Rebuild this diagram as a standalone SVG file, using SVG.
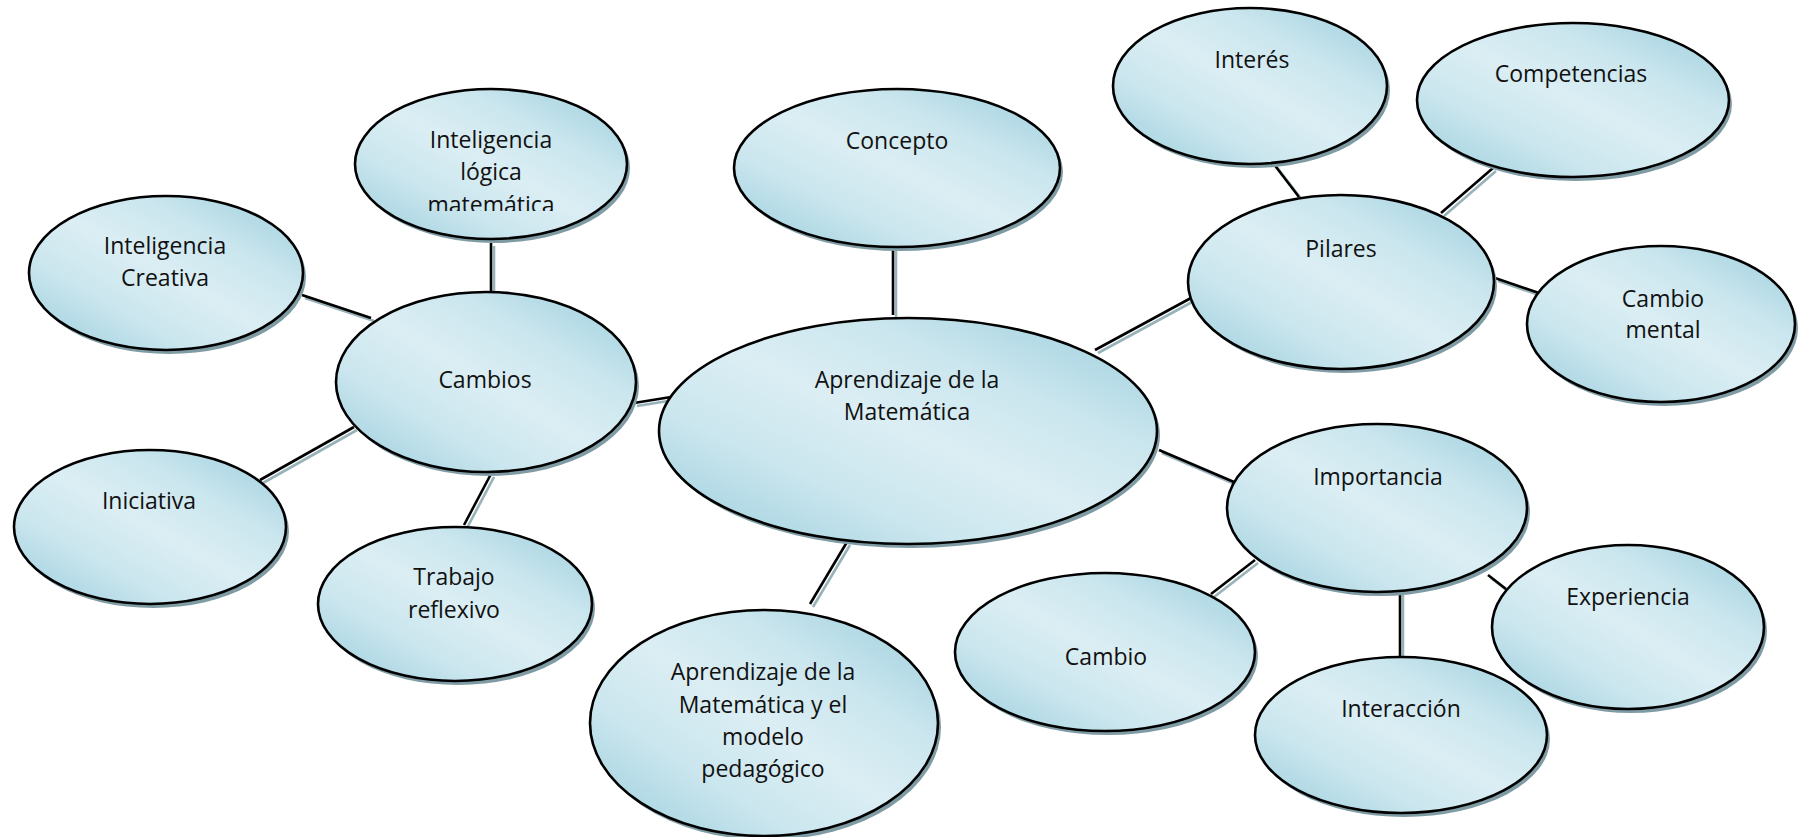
<svg xmlns="http://www.w3.org/2000/svg" width="1798" height="837" viewBox="0 0 1798 837">
<defs>
<linearGradient id="g" x1="0" y1="1" x2="1" y2="0">
<stop offset="0" stop-color="#98cddc"/>
<stop offset="0.3" stop-color="#cbe6ee"/>
<stop offset="0.5" stop-color="#dbeef4"/>
<stop offset="0.7" stop-color="#cbe6ee"/>
<stop offset="1" stop-color="#98cddc"/>
</linearGradient>
<clipPath id="clipMat"><rect x="0" y="0" width="1798" height="211"/></clipPath>
</defs>
<style>
.sh{fill:#7f9ca5;}
.el{fill:url(#g);stroke:#000;stroke-width:2.6;}
.t{font-family:"Open Sans","Liberation Sans",sans-serif;font-size:23px;fill:#111;text-anchor:middle;}
.cs{stroke:#98b2b9;stroke-width:2.6;fill:none;}
.c{stroke:#000;stroke-width:2.6;fill:none;}
</style>
<rect width="1798" height="837" fill="#fff"/>
<g id="connectors">
<g transform="translate(3,3)">
<line class="cs" x1="491" y1="243" x2="491" y2="293"/>
<line class="cs" x1="302" y1="295" x2="371" y2="318"/>
<line class="cs" x1="634" y1="403" x2="671" y2="397"/>
<line class="cs" x1="354" y1="427" x2="260" y2="480"/>
<line class="cs" x1="491" y1="474" x2="464" y2="525"/>
<line class="cs" x1="893" y1="248" x2="893" y2="315"/>
<line class="cs" x1="1095" y1="350" x2="1191" y2="298"/>
<line class="cs" x1="1159" y1="450" x2="1234" y2="482"/>
<line class="cs" x1="847" y1="542" x2="810" y2="604"/>
<line class="cs" x1="1273" y1="163" x2="1299" y2="197"/>
<line class="cs" x1="1493" y1="168" x2="1441" y2="213"/>
<line class="cs" x1="1495" y1="278" x2="1539" y2="293"/>
<line class="cs" x1="1255" y1="560" x2="1211" y2="594"/>
<line class="cs" x1="1400" y1="592" x2="1400" y2="657"/>
<line class="cs" x1="1488" y1="575" x2="1506" y2="589"/>
</g>
<line class="c" x1="491" y1="243" x2="491" y2="293"/>
<line class="c" x1="302" y1="295" x2="371" y2="318"/>
<line class="c" x1="634" y1="403" x2="671" y2="397"/>
<line class="c" x1="354" y1="427" x2="260" y2="480"/>
<line class="c" x1="491" y1="474" x2="464" y2="525"/>
<line class="c" x1="893" y1="248" x2="893" y2="315"/>
<line class="c" x1="1095" y1="350" x2="1191" y2="298"/>
<line class="c" x1="1159" y1="450" x2="1234" y2="482"/>
<line class="c" x1="847" y1="542" x2="810" y2="604"/>
<line class="c" x1="1273" y1="163" x2="1299" y2="197"/>
<line class="c" x1="1493" y1="168" x2="1441" y2="213"/>
<line class="c" x1="1495" y1="278" x2="1539" y2="293"/>
<line class="c" x1="1255" y1="560" x2="1211" y2="594"/>
<line class="c" x1="1400" y1="592" x2="1400" y2="657"/>
<line class="c" x1="1488" y1="575" x2="1506" y2="589"/>
</g>
<g id="n-creativa">
<ellipse class="sh" cx="169" cy="277" rx="137" ry="77"/>
<ellipse class="el" cx="166" cy="273" rx="137" ry="77"/>
<text class="t" x="165" y="254">Inteligencia</text>
<text class="t" x="165" y="286">Creativa</text>
</g>
<g id="n-logica">
<ellipse class="sh" cx="494" cy="168" rx="136" ry="75"/>
<ellipse class="el" cx="491" cy="164" rx="136" ry="75"/>
<text class="t" x="491" y="148">Inteligencia</text>
<text class="t" x="491" y="180">lógica</text>
<text class="t" x="491" y="213" clip-path="url(#clipMat)">matemática</text>
</g>
<g id="n-cambios">
<ellipse class="sh" cx="489" cy="386" rx="150" ry="90"/>
<ellipse class="el" cx="486" cy="382" rx="150" ry="90"/>
<text class="t" x="485" y="388">Cambios</text>
</g>
<g id="n-iniciativa">
<ellipse class="sh" cx="153" cy="531" rx="136" ry="77"/>
<ellipse class="el" cx="150" cy="527" rx="136" ry="77"/>
<text class="t" x="149" y="509">Iniciativa</text>
</g>
<g id="n-trabajo">
<ellipse class="sh" cx="458" cy="608" rx="137" ry="77"/>
<ellipse class="el" cx="455" cy="604" rx="137" ry="77"/>
<text class="t" x="454" y="585">Trabajo</text>
<text class="t" x="454" y="618">reflexivo</text>
</g>
<g id="n-concepto">
<ellipse class="sh" cx="900" cy="172" rx="163" ry="79"/>
<ellipse class="el" cx="897" cy="168" rx="163" ry="79"/>
<text class="t" x="897" y="149">Concepto</text>
</g>
<g id="n-central">
<ellipse class="sh" cx="911" cy="435" rx="249" ry="113"/>
<ellipse class="el" cx="908" cy="431" rx="249" ry="113"/>
<text class="t" x="907" y="388">Aprendizaje de la</text>
<text class="t" x="907" y="420">Matemática</text>
</g>
<g id="n-modelo">
<ellipse class="sh" cx="767" cy="727" rx="174" ry="113"/>
<ellipse class="el" cx="764" cy="723" rx="174" ry="113"/>
<text class="t" x="763" y="680">Aprendizaje de la</text>
<text class="t" x="763" y="713">Matemática y el</text>
<text class="t" x="763" y="745">modelo</text>
<text class="t" x="763" y="777">pedagógico</text>
</g>
<g id="n-cambio">
<ellipse class="sh" cx="1108" cy="656" rx="150" ry="79"/>
<ellipse class="el" cx="1105" cy="652" rx="150" ry="79"/>
<text class="t" x="1106" y="665">Cambio</text>
</g>
<g id="n-importancia">
<ellipse class="sh" cx="1380" cy="512" rx="150" ry="84"/>
<ellipse class="el" cx="1377" cy="508" rx="150" ry="84"/>
<text class="t" x="1378" y="485">Importancia</text>
</g>
<g id="n-experiencia">
<ellipse class="sh" cx="1631" cy="631" rx="136" ry="82"/>
<ellipse class="el" cx="1628" cy="627" rx="136" ry="82"/>
<text class="t" x="1628" y="605">Experiencia</text>
</g>
<g id="n-interaccion">
<ellipse class="sh" cx="1404" cy="739" rx="146" ry="78"/>
<ellipse class="el" cx="1401" cy="735" rx="146" ry="78"/>
<text class="t" x="1401" y="717">Interacción</text>
</g>
<g id="n-pilares">
<ellipse class="sh" cx="1344" cy="286" rx="153" ry="87"/>
<ellipse class="el" cx="1341" cy="282" rx="153" ry="87"/>
<text class="t" x="1341" y="257">Pilares</text>
</g>
<g id="n-cambiomental">
<ellipse class="sh" cx="1664" cy="328" rx="134" ry="78"/>
<ellipse class="el" cx="1661" cy="324" rx="134" ry="78"/>
<text class="t" x="1663" y="307">Cambio</text>
<text class="t" x="1663" y="338">mental</text>
</g>
<g id="n-interes">
<ellipse class="sh" cx="1253" cy="90" rx="137" ry="78"/>
<ellipse class="el" cx="1250" cy="86" rx="137" ry="78"/>
<text class="t" x="1252" y="68">Interés</text>
</g>
<g id="n-competencias">
<ellipse class="sh" cx="1576" cy="104" rx="156" ry="77"/>
<ellipse class="el" cx="1573" cy="100" rx="156" ry="77"/>
<text class="t" x="1571" y="82">Competencias</text>
</g>
</svg>
